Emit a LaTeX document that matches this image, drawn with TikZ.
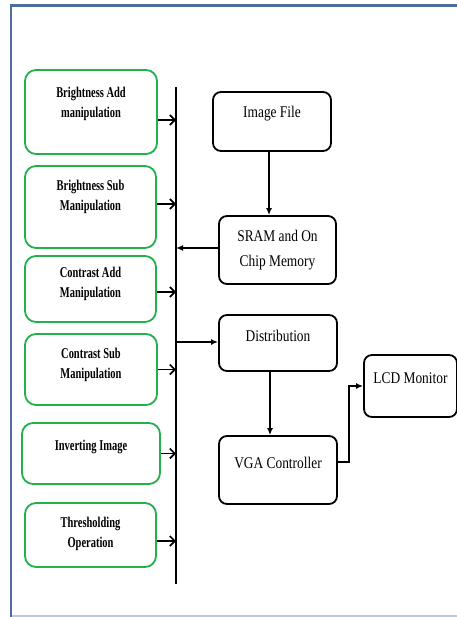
\documentclass[tikz,border=0pt]{standalone}
\usepackage{fontspec}
\setmainfont{Liberation Serif}
\newfontfamily\regfont[FakeStretch=0.82]{Liberation Serif}
\newfontfamily\boldfont[FakeStretch=0.70]{Liberation Serif}
\usetikzlibrary{arrows.meta}
\definecolor{framebl}{RGB}{78,108,156}
\definecolor{framelt}{RGB}{185,201,221}
\definecolor{opgreen}{RGB}{34,177,76}
\tikzset{
  opbox/.style={draw=opgreen, line width=1.8bp, rounded corners=11bp, inner sep=0pt},
  hwbox/.style={draw=black, line width=1.8bp, rounded corners=8bp, inner sep=0pt},
  optext/.style={align=center, inner sep=0pt, font=\boldfont\bfseries\fontsize{15}{20}\selectfont},
  hwtext/.style={align=center, inner sep=0pt, font=\regfont\fontsize{16.4}{25}\selectfont},
  barb/.style={line width=1.7bp, -{Straight Barb[length=5bp,width=10bp]}},
  feed/.style={line width=1.7bp, -{Latex[length=7bp,width=6bp]}},
  busline/.style={line width=1.6bp}
}
\begin{document}
\begin{tikzpicture}[x=1bp,y=-1bp]
\useasboundingbox (0,0) rectangle (457,617);
\fill[white] (0,0) rectangle (457,617);

% page frame
\draw[framelt, line width=1.5bp] (11,616) -- (457,616);
\draw[framebl, line width=2.6bp] (11,6) -- (11,617);
\draw[framebl, line width=3bp] (10,6) -- (457,6);

% image operations (left column)
\node[opbox, minimum width=132bp, minimum height=84bp] (b1) at (91,112) {};
\node[opbox, minimum width=131bp, minimum height=82bp] (b2) at (90.5,207) {};
\node[opbox, minimum width=131bp, minimum height=66bp] (b3) at (90.5,289) {};
\node[opbox, minimum width=132bp, minimum height=71bp] (b4) at (91,369.5) {};
\node[opbox, minimum width=138bp, minimum height=61bp] (b5) at (91,453.5) {};
\node[opbox, minimum width=131bp, minimum height=64bp] (b6) at (90.5,535) {};

\node[optext] (t1) at ([yshift=8bp]b1.center) {Brightness Add\\manipulation};
\node[optext] (t2) at ([yshift=10bp]b2.center) {Brightness Sub\\Manipulation};
\node[optext] (t3) at ([yshift=5bp]b3.center) {Contrast Add\\Manipulation};
\node[optext] (t4) at ([yshift=5bp]b4.center) {Contrast Sub\\Manipulation};
\node[optext] (t5) at ([yshift=7bp]b5.center) {Inverting Image};
\node[optext] (t6) at ([yshift=1bp]b6.center) {Thresholding\\Operation};

% shared bus
\coordinate (busT) at (176,87);
\coordinate (busB) at (176,584);
\draw[busline] (busT) -- (busB);

% hardware chain (right column)
\node[hwbox, minimum width=118bp, minimum height=59bp] (img) at (272,121.5) {};
\node[hwbox, minimum width=117bp, minimum height=68bp] (sram) at (277.5,250) {};
\node[hwbox, minimum width=118bp, minimum height=56bp] (dist) at (278,343) {};
\node[hwbox, minimum width=118bp, minimum height=68bp] (vga) at (278,470) {};
\node[hwbox, minimum width=93bp, minimum height=62bp] (lcd) at (410.5,386) {};

\node[hwtext] (timg) at ([yshift=8bp]img.center) {Image File};
\node[hwtext] (tsram) at (sram.center) {SRAM and On\\Chip Memory};
\node[hwtext] (tdist) at ([yshift=7bp]dist.center) {Distribution};
\node[hwtext] (tvga) at ([yshift=7bp]vga.center) {VGA Controller};
\node[hwtext] (tlcd) at ([yshift=8bp]lcd.center) {LCD Monitor};

% operations feed the bus
\path ([yshift=-8bp]b1.east) coordinate (s1)
      ([yshift=3bp]b2.east) coordinate (s2)
      ([yshift=-3bp]b3.east) coordinate (s3)
      (b4.east) coordinate (s4)
      (b5.east) coordinate (s5)
      ([yshift=-6bp]b6.east) coordinate (s6);
\foreach \s in {s1,s2,s3,s4,s5,s6}
  \draw[barb] (\s) -- (\s -| busT);

% data path
\path ([xshift=-3bp]img.south) coordinate (imgout);
\draw[feed] (imgout) -- (imgout |- sram.north);
\path ([yshift=2bp]sram.west) coordinate (sramout);
\draw[feed] (sramout) -- (sramout -| busT);
\path ([yshift=1bp]dist.west) coordinate (distin);
\draw[feed] (distin -| busT) -- (distin);
\path ([xshift=-8bp]dist.south) coordinate (distout);
\draw[feed] (distout) -- (distout |- vga.north);
\draw[feed] ([yshift=8bp]vga.east) -- ++(11,0) |- (lcd.west);
\end{tikzpicture}
\end{document}
